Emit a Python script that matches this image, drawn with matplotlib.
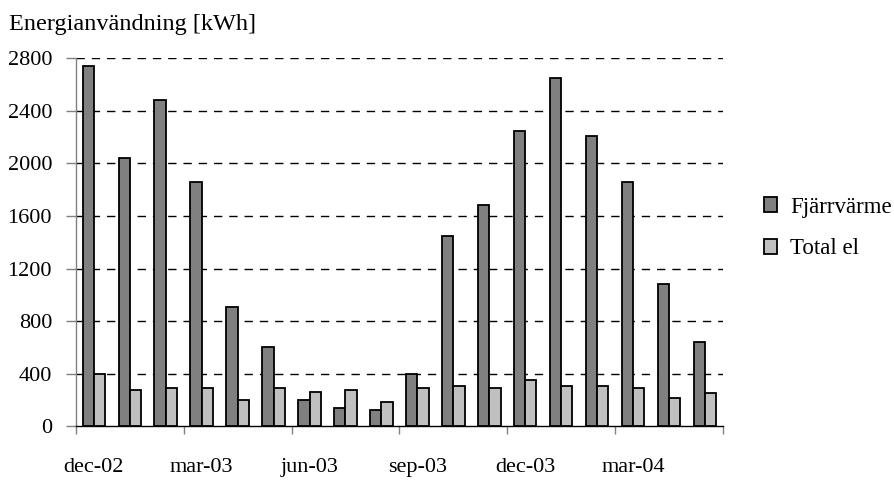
import matplotlib
matplotlib.use("Agg")
import matplotlib.pyplot as plt
import numpy as np

months = ["dec-02", "jan-03", "feb-03", "mar-03", "apr-03", "maj-03",
          "jun-03", "jul-03", "aug-03", "sep-03", "okt-03", "nov-03",
          "dec-03", "jan-04", "feb-04", "mar-04", "apr-04", "maj-04"]
fjarrvarme = [2740, 2040, 2480, 1860, 910, 600, 200, 140, 120,
              400, 1450, 1680, 2250, 2650, 2210, 1860, 1080, 640]
total_el = [400, 275, 290, 290, 200, 290, 260, 275, 185,
            290, 305, 290, 350, 305, 305, 290, 215, 250]
series_names = ["Fjärrvärme", "Total el"]
y_ticks = [0, 400, 800, 1200, 1600, 2000, 2400, 2800]
label_every = 3

plt.rcParams["font.family"] = ["Liberation Serif", "DejaVu Serif"]
plt.rcParams["font.size"] = 16

fig = plt.figure(figsize=(8.95, 4.8), dpi=100)
ax = fig.add_axes([0.0846, 0.112, 0.808 - 0.0846, 0.8785 - 0.112])

n = len(months)
centers = np.arange(n) + 0.5
w = 0.31
ax.bar(centers - w / 2, fjarrvarme, width=w, color="#808080",
       edgecolor="black", linewidth=1.3, label=series_names[0], zorder=3)
ax.bar(centers + w / 2, total_el, width=w, color="#C0C0C0",
       edgecolor="black", linewidth=1.3, label=series_names[1], zorder=3)

ax.set_xlim(0, n)
ax.set_ylim(0, 2800)

# horizontal dashed grid
for v in y_ticks[1:]:
    ax.axhline(v, color="black", linewidth=1.0, dashes=(6, 5), zorder=1)

ax.set_yticks(y_ticks)
ax.tick_params(axis="y", direction="out", length=7, width=1,
               color="#808080", pad=10)

# category labels every third month, tick marks at group boundaries
ax.set_xticks(centers[::label_every])
ax.set_xticklabels(months[::label_every])
ax.set_xticks(list(range(0, n + 1, label_every)), minor=True)
ax.tick_params(axis="x", which="major", length=0, pad=23)
ax.tick_params(axis="x", which="minor", direction="out", length=6,
               width=1, color="#808080")

for s in ["top", "right"]:
    ax.spines[s].set_visible(False)
ax.spines["left"].set_color("#808080")
ax.spines["left"].set_linewidth(1.0)
ax.spines["bottom"].set_color("black")
ax.spines["bottom"].set_linewidth(1.0)

fig.text(0.01, 0.948, "Energianvändning [kWh]", ha="left", va="center",
         fontsize=17.5)

fig.legend(loc="center left", bbox_to_anchor=(0.843, 0.525), frameon=False,
           handlelength=0.6, handleheight=0.6, handletextpad=0.55,
           labelspacing=0.9, fontsize=16.5, borderaxespad=0)

fig.savefig("out.png", dpi=100)
